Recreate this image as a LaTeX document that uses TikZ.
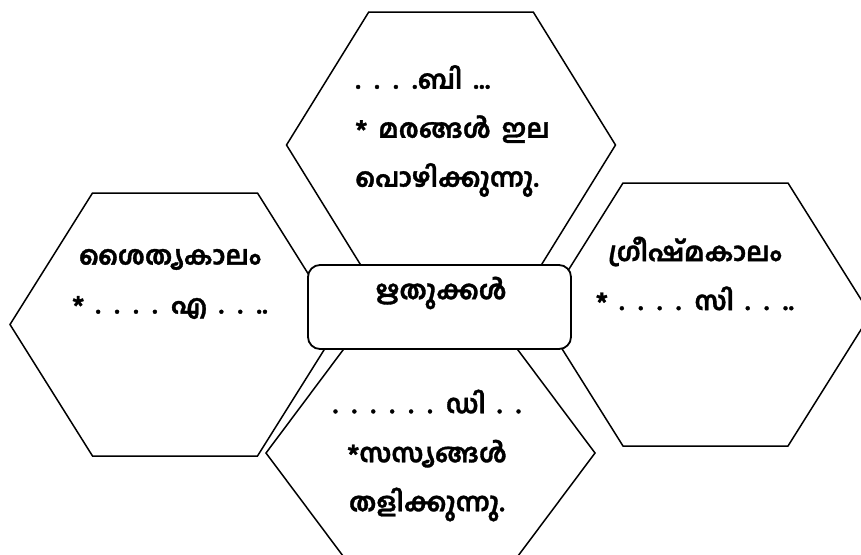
\documentclass[tikz,border=0pt]{standalone}
\usepackage{fontspec}
\newfontfamily\mlfont[Script=Malayalam, WordSpace=1.7, BoldFeatures={FakeBold=1.3}]{Hind Kochi}
\tikzset{
  wire/.style={line width=1.5pt, line join=miter},
  hexa/.pic={\draw[wire] (-1,0) -- (-0.5,-1) -- (0.5,-1) -- (1,0) -- (0.5,1) -- (-0.5,1) -- cycle;},
  cbox/.style={draw, line width=1.8pt, fill=white, rounded corners=12pt, minimum width=263pt, minimum height=84pt, inner sep=0pt},
  mltext/.style={font=\mlfont\bfseries\fontsize{26}{49}\selectfont, inner sep=0pt},
}
\begin{document}
\begin{tikzpicture}[x=1pt,y=-1pt]
  \clip (0,0) rectangle (861,554);
  % four seasons
  \pic[xscale=164.5,yscale=133] at (451,145) {hexa};
  \pic[xscale=165,yscale=131.5] at (175,324.5) {hexa};
  \pic[xscale=165,yscale=131.5] at (705.5,314.5) {hexa};
  \pic[xscale=164.5,yscale=110] at (430.5,453) {hexa};
  % middle
  \node[cbox] (rtu) at (439.5,307) {};
  \node[mltext] (rtuname) at (441,293) {ഋതുക്കൾ};
  \node[mltext, anchor=west, align=left] (autumn) at (355,131)
    {. . . .ബി ...\\* മരങ്ങൾ ഇല\\പൊഴിക്കുന്നു.};
  \node[mltext, align=center] (winter) at (170,284)
    {ശൈത്യകാലം\\* . . . . എ . . ..};
  \node[mltext, align=center] (summer) at (695,273.5)
    {ഗ്രീഷ്മകാലം\\* . . . . സി . . ..};
  \node[mltext, align=center] (spring) at (427,455.5)
    {. . . . . . ഡി . .\\*സസ്യങ്ങൾ\\തളിക്കുന്നു.};
\end{tikzpicture}
\end{document}
